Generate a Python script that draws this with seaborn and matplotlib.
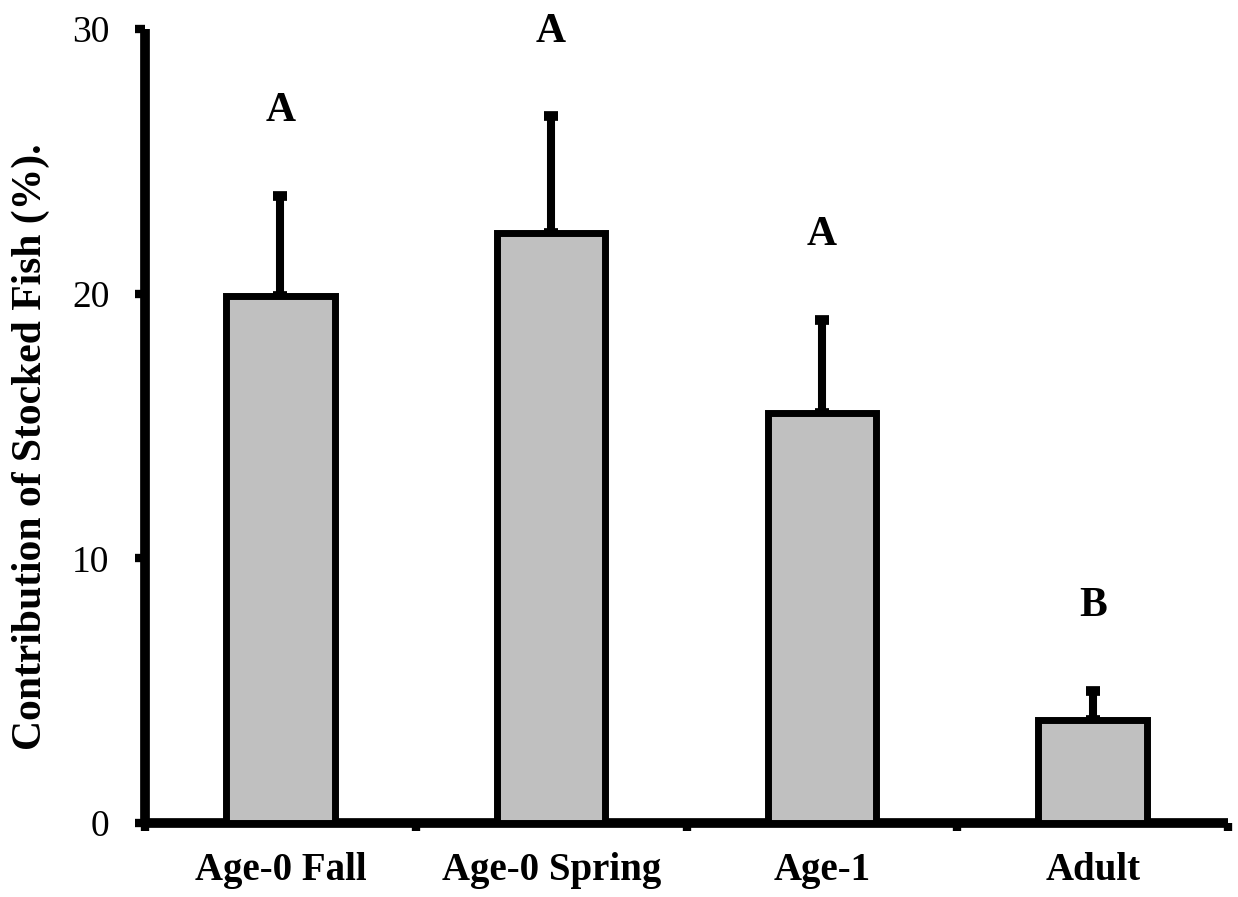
import matplotlib
matplotlib.use("Agg")
import matplotlib.pyplot as plt
import seaborn as sns
import pandas as pd
import numpy as np

categories = ["Age-0 Fall", "Age-0 Spring", "Age-1", "Adult"]
means = [19.9, 22.3, 15.5, 3.9]
errors = [3.8, 4.4, 3.5, 1.1]
letters = ["A", "A", "A", "B"]
y_ticks = [0, 10, 20, 30]

sns.set_theme(style="ticks")
plt.rcParams["font.family"] = ["Liberation Serif", "DejaVu Serif"]
plt.rcParams["text.color"] = "black"
plt.rcParams["axes.labelcolor"] = "black"
plt.rcParams["xtick.color"] = "black"
plt.rcParams["ytick.color"] = "black"

df = pd.DataFrame({"group": categories, "value": means})

W, H = 1238, 897
fig = plt.figure(figsize=(W / 100, H / 100), dpi=100)
ax = fig.add_axes([145 / W, 1 - 823 / H, (1228 - 145) / W, (823 - 29) / H])

sns.barplot(data=df, x="group", y="value", order=categories, color="#C0C0C0",
            edgecolor="black", linewidth=5, width=0.4, errorbar=None,
            saturation=1, ax=ax, zorder=3)

xs = [p.get_x() + p.get_width() / 2 for p in ax.patches]
ax.errorbar(xs, means, yerr=[np.zeros(len(errors)), errors], fmt="none",
            ecolor="black", elinewidth=5.8, capsize=4.7, capthick=7, zorder=2)

for x, m, e, lab in zip(xs, means, errors, letters):
    ax.text(x, m + e + 3.2, lab, ha="center", va="center", fontsize=30,
            fontweight="bold", color="black")

ax.set_xlim(-0.5, len(categories) - 0.5)
ax.set_ylim(0, 30)
ax.set_yticks(y_ticks)
ax.set_yticklabels([str(t) for t in y_ticks], fontsize=27, color="black")

ax.set_xticks(np.arange(-0.5, len(categories), 1.0))
ax.set_xticklabels([])
ax.set_xticks(np.arange(len(categories)), minor=True)
ax.set_xticklabels(categories, minor=True, fontsize=28, fontweight="bold", color="black")
ax.tick_params(axis="x", which="major", direction="out", length=6, width=6, color="black")
ax.tick_params(axis="x", which="minor", length=0, pad=21)
ax.tick_params(axis="y", which="major", direction="out", length=7.5, width=6,
               color="black", pad=18)

for s in ["top", "right"]:
    ax.spines[s].set_visible(False)
for s in ["left", "bottom"]:
    ax.spines[s].set_linewidth(7)
    ax.spines[s].set_color("black")
    ax.spines[s].set_capstyle("butt")

ax.set_xlabel("")
ax.set_ylabel("Contribution of Stocked Fish (%).", fontsize=30, fontweight="bold",
              color="black")
ax.yaxis.set_label_coords(-0.088, 0.4735)

fig.savefig("out.png", dpi=100)
